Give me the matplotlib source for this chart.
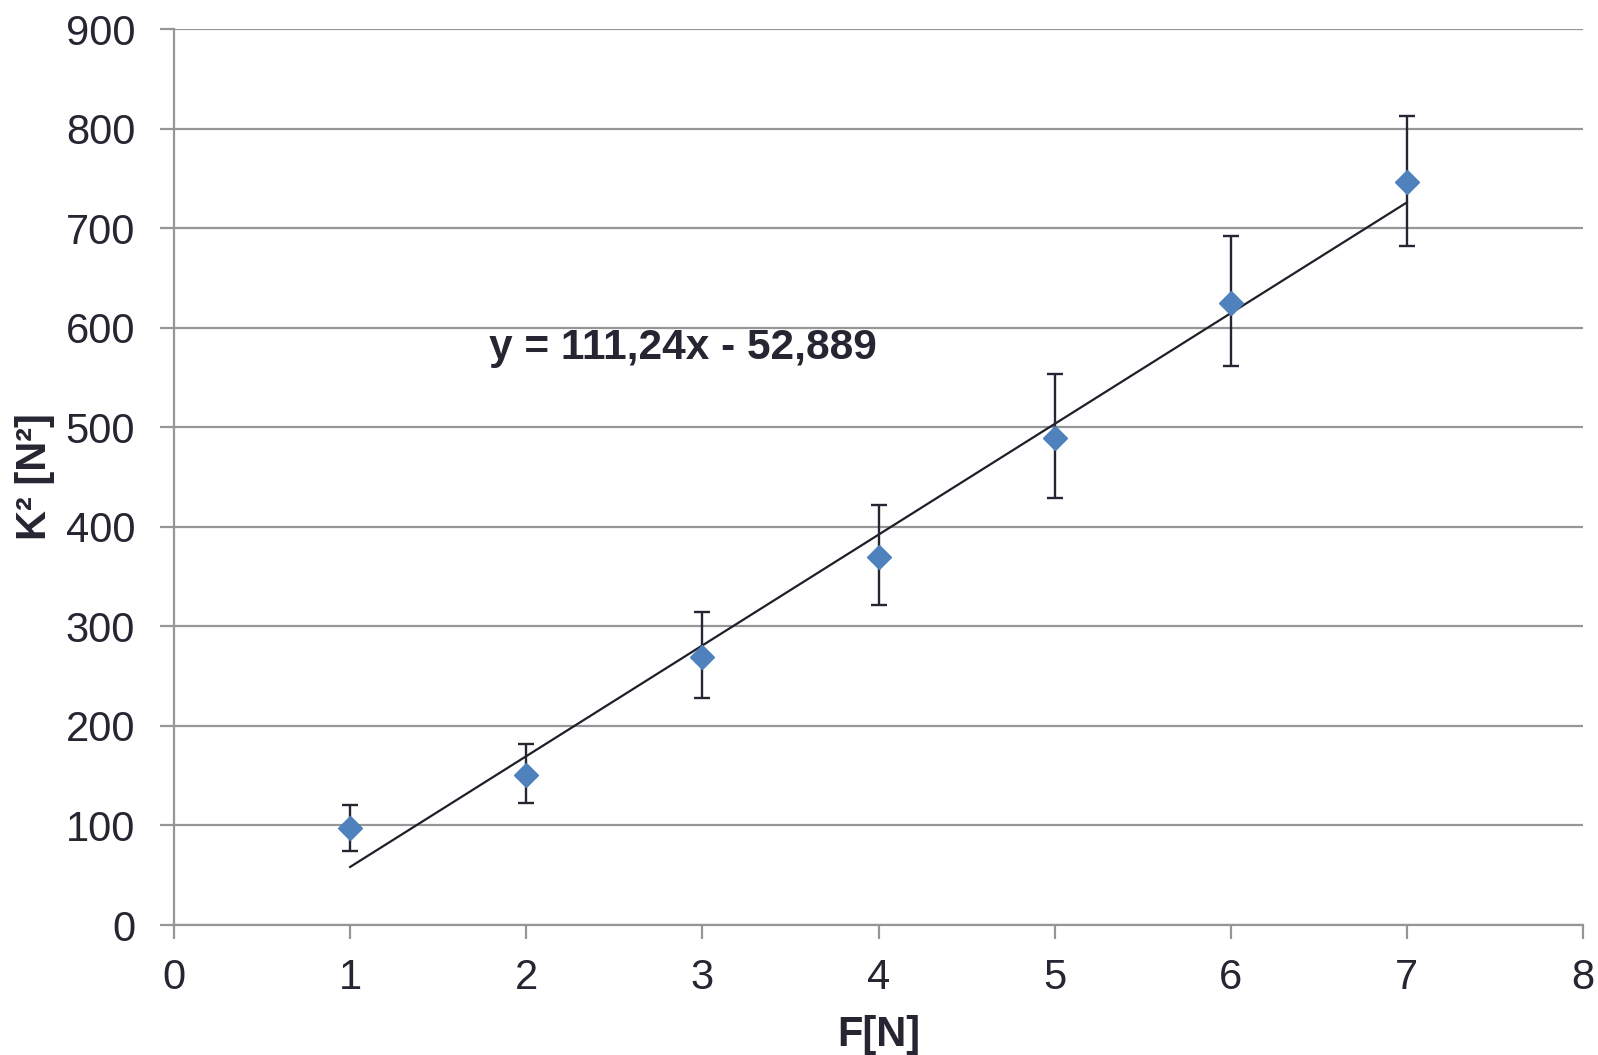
import matplotlib
matplotlib.use("Agg")
import matplotlib.pyplot as plt
import numpy as np

plt.rcParams['font.family'] = ['Liberation Sans', 'DejaVu Sans']

F = [1, 2, 3, 4, 5, 6, 7]
K2 = [97, 151, 269, 370, 489, 625, 746]
err_up = [24, 31, 45, 52, 64, 67, 67]
err_down = [23, 28, 41, 49, 60, 63, 64]
slope = 111.24
intercept = -52.889
eq_label = "y = 111,24x - 52,889"
xticks = [0, 1, 2, 3, 4, 5, 6, 7, 8]
yticks = [0, 100, 200, 300, 400, 500, 600, 700, 800, 900]

text_color = '#262633'
grid_color = '#969696'

fig = plt.figure(figsize=(15.98, 10.55), dpi=100)
ax = fig.add_axes([0.1089, 0.1232, 0.8817, 0.8493])

ax.set_xlim(0, 8)
ax.set_ylim(0, 900)
ax.set_xticks(xticks)
ax.set_yticks(yticks)

ax.yaxis.grid(True, color=grid_color, linewidth=1.6)
ax.set_axisbelow(True)
for s in ['top', 'right']:
    ax.spines[s].set_visible(False)
for s in ['left', 'bottom']:
    ax.spines[s].set_color(grid_color)
    ax.spines[s].set_linewidth(1.6)

ax.tick_params(axis='both', colors=grid_color, labelcolor=text_color,
               labelsize=30, length=10, width=1.6)
ax.tick_params(axis='x', pad=14)
ax.tick_params(axis='y', pad=18)

xl = np.array([F[0], F[-1]])
ax.plot(xl, slope * xl + intercept, color='#1f1f2a', linewidth=1.6, zorder=3)

ax.errorbar(F, K2, yerr=[err_down, err_up], fmt='none', ecolor='#262633',
            elinewidth=1.7, capsize=6, capthick=1.7, zorder=4)
ax.plot(F, K2, linestyle='none', marker='D', markersize=12,
        color='#4F81BD', markeredgecolor='#4F81BD', zorder=5)

ax.text(1.79, 580, eq_label, fontsize=30.5, fontweight='bold',
        color=text_color, ha='left', va='center')

ax.set_xlabel('F[N]', fontsize=30, fontweight='bold', color=text_color, labelpad=12)
ax.set_ylabel('K² [N²]', fontsize=30, fontweight='bold', color=text_color, labelpad=8)

fig.savefig('out.png', dpi=100)
